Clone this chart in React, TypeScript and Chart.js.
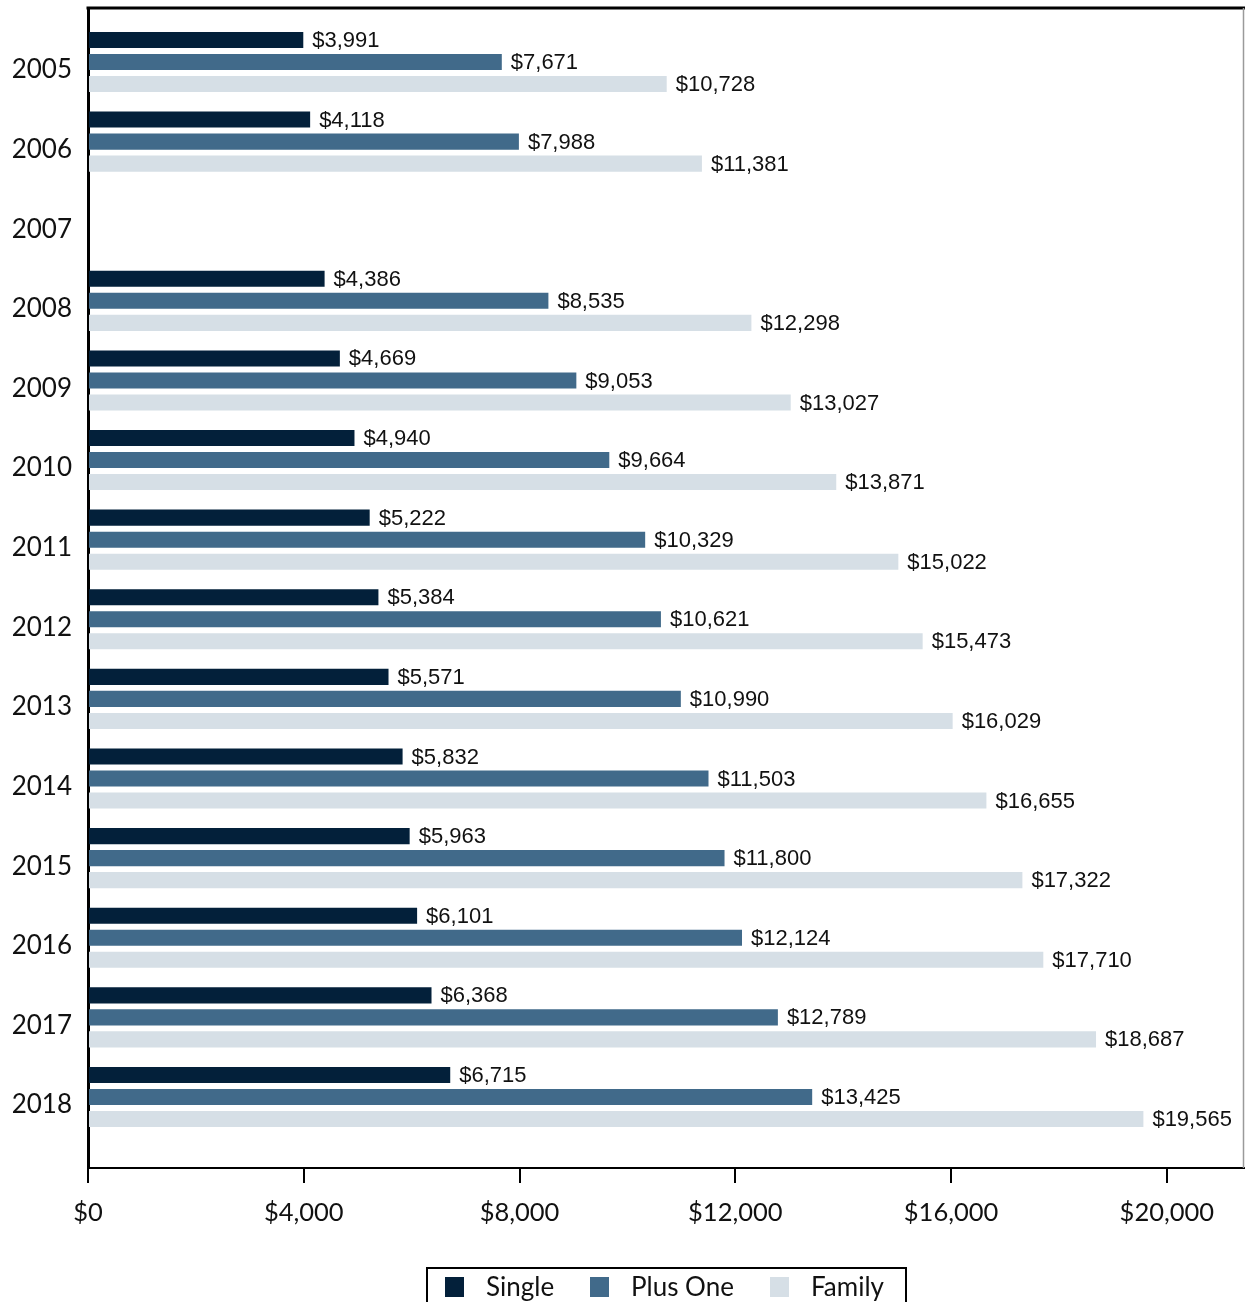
import React, { useEffect, useRef } from "react";
import { Chart, registerables } from "chart.js";

Chart.register(...registerables);

const years = ["2005", "2006", "2007", "2008", "2009", "2010", "2011", "2012", "2013", "2014", "2015", "2016", "2017", "2018"];
const single: (number | null)[] = [3991, 4118, null, 4386, 4669, 4940, 5222, 5384, 5571, 5832, 5963, 6101, 6368, 6715];
const plusOne: (number | null)[] = [7671, 7988, null, 8535, 9053, 9664, 10329, 10621, 10990, 11503, 11800, 12124, 12789, 13425];
const family: (number | null)[] = [10728, 11381, null, 12298, 13027, 13871, 15022, 15473, 16029, 16655, 17322, 17710, 18687, 19565];
const seriesNames = ["Single", "Plus One", "Family"];
const seriesColors = ["#03203A", "#416A8A", "#D6DFE6"];
const xTickValues = [0, 4000, 8000, 12000, 16000, 20000];

const toPoints = (arr: (number | null)[]) =>
  arr.map((v, i) => (v == null ? null : { x: v, y: i })).filter((p) => p !== null);

const fmt = (v: number) => "$" + v.toLocaleString("en-US");

export default function App() {
  const ref = useRef<HTMLCanvasElement | null>(null);

  useEffect(() => {
    if (!ref.current) return;
    const labelFont = "Lato";

    const decor = {
      id: "decor",
      afterDatasetsDraw(chart: any) {
        const ctx = chart.ctx;
        ctx.save();
        ctx.font = "22px 'Liberation Sans', Arial, sans-serif";
        ctx.fillStyle = "#111";
        ctx.textBaseline = "middle";
        ctx.textAlign = "left";
        chart.data.datasets.forEach((ds: any, di: number) => {
          const meta = chart.getDatasetMeta(di);
          meta.data.forEach((el: any, j: number) => {
            const raw = ds.data[j];
            if (!raw) return;
            ctx.fillText(fmt(raw.x), el.x + 9, el.y + 1);
          });
        });
        ctx.restore();
      },
      afterDraw(chart: any) {
        const ctx = chart.ctx;
        const a = chart.chartArea;
        ctx.save();
        // top border
        ctx.strokeStyle = "#000";
        ctx.lineWidth = 3;
        ctx.beginPath();
        ctx.moveTo(a.left - 1.5, a.top);
        ctx.lineTo(1245, a.top);
        ctx.stroke();
        // right border
        ctx.strokeStyle = "#9a9a9a";
        ctx.lineWidth = 1.5;
        ctx.beginPath();
        ctx.moveTo(a.right - 0.5, a.top);
        ctx.lineTo(a.right - 0.5, a.bottom);
        ctx.stroke();
        // legend
        ctx.strokeStyle = "#000";
        ctx.lineWidth = 2;
        ctx.strokeRect(427, 1268, 479, 40);
        const sq = [445, 590, 770];
        const tx = [486, 631, 811];
        ctx.font = `26px ${labelFont}, sans-serif`;
        ctx.textBaseline = "alphabetic";
        ctx.textAlign = "left";
        for (let i = 0; i < 3; i++) {
          ctx.fillStyle = seriesColors[i];
          ctx.fillRect(sq[i], 1277, 19, 20);
          ctx.fillStyle = "#111";
          ctx.fillText(seriesNames[i], tx[i], 1296);
        }
        ctx.restore();
      },
    };

    const chart = new Chart(ref.current, {
      type: "bar",
      data: {
        datasets: [single, plusOne, family].map((arr, i) => ({
          label: seriesNames[i],
          data: toPoints(arr) as any,
          backgroundColor: seriesColors[i],
          borderWidth: 0,
          categoryPercentage: 0.83,
          barPercentage: 0.73,
        })),
      },
      options: {
        indexAxis: "y",
        animation: false,
        responsive: false,
        devicePixelRatio: 1,
        layout: { padding: { top: 8, right: 1, left: 0, bottom: 0 } },
        plugins: { legend: { display: false }, tooltip: { enabled: false } },
        scales: {
          x: {
            type: "linear",
            min: 0,
            max: 21430,
            offset: false,
            afterBuildTicks: (scale: any) => {
              scale.ticks = xTickValues.map((v) => ({ value: v }));
            },
            afterFit: (scale: any) => {
              scale.height = 134;
              scale.paddingLeft = 0;
              scale.paddingRight = 0;
            },
            grid: {
              display: true,
              drawOnChartArea: false,
              drawTicks: true,
              tickLength: 15,
              color: "#000",
              lineWidth: 2,
            },
            border: { display: true, color: "#000", width: 2 },
            ticks: {
              padding: 14,
              color: "#111",
              font: { family: labelFont, size: 25.5 },
              callback: (v: any) => fmt(Number(v)),
              maxRotation: 0,
              autoSkip: false,
            },
          },
          y: {
            type: "linear",
            reverse: true,
            offset: false,
            min: -0.678,
            max: 13.892,
            afterBuildTicks: (scale: any) => {
              scale.ticks = years.map((_, i) => ({ value: i }));
            },
            afterFit: (scale: any) => {
              scale.width = 88;
              scale.paddingTop = 0;
              scale.paddingBottom = 0;
            },
            grid: { display: true, drawOnChartArea: false, drawTicks: false },
            border: { display: true, color: "#000", width: 3 },
            ticks: {
              padding: 16,
              labelOffset: 8,
              color: "#111",
              font: { family: labelFont, size: 26 },
              callback: (v: any) => years[Math.round(Number(v))] ?? "",
              autoSkip: false,
            },
          },
        },
      },
      plugins: [decor],
    } as any);

    return () => chart.destroy();
  }, []);

  return (
    <div style={{ position: "absolute", left: 0, top: 0, width: 1245, height: 1302, background: "#fff" }}>
      <canvas ref={ref} width={1245} height={1302} style={{ width: 1245, height: 1302, display: "block" }} />
    </div>
  );
}
